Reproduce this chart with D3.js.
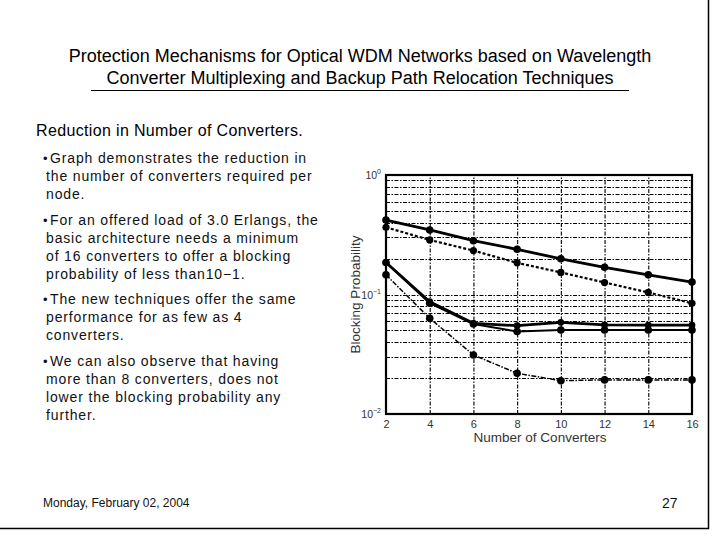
<!DOCTYPE html>
<html>
<head>
<meta charset="utf-8">
<script src="https://cdn.jsdelivr.net/npm/d3@7"></script>
<style>
  body { margin: 0; background: #fff; }
  svg { display: block; font-family: "Liberation Sans", Arial, sans-serif; }
</style>
</head>
<body>
<svg id="slide" width="720" height="540"></svg>
<script>
// chart data
const converters = [2, 4, 6, 8, 10, 12, 14, 16];
const basicArch = [0.42, 0.347, 0.282, 0.239, 0.199, 0.169, 0.146, 0.127];
const basicArch2 = [0.365, 0.286, 0.233, 0.184, 0.153, 0.126, 0.104, 0.0844];
const relocA = [0.185, 0.087, 0.0574, 0.0548, 0.0585, 0.0556, 0.0555, 0.0555];
const relocB = [0.185, 0.0845, 0.0566, 0.049, 0.0505, 0.0505, 0.0505, 0.0505];
const multiplex = [0.146, 0.0632, 0.0312, 0.0219, 0.019, 0.0193, 0.0193, 0.0193];

const xTicks = [2, 4, 6, 8, 10, 12, 14, 16];
const yDecades = [1, 0.1, 0.01];
const yDecadeExp = ["0", "\u22121", "\u22122"];

const titleLines = [
  "Protection Mechanisms for Optical WDM Networks based on Wavelength",
  "Converter Multiplexing and Backup Path Relocation Techniques"
];
const subtitle = "Reduction in Number of Converters.";
const bullets = [
  ["Graph demonstrates the reduction in", "the number of converters required per", "node."],
  ["For an offered load of 3.0 Erlangs, the", "basic architecture needs a minimum", "of 16 converters to offer a blocking", "probability of less than10\u22121."],
  ["The new techniques offer the same", "performance for as few as 4", "converters."],
  ["We can also observe that having", "more than 8 converters, does not", "lower the blocking probability any", "further."]
];
const footerDate = "Monday, February 02, 2004";
const pageNo = "27";

const svg = d3.select("#slide");

// slide frame (right + bottom edge)
svg.append("path")
  .attr("d", "M708.5,0V528.5H0")
  .attr("fill", "none")
  .attr("stroke", "#000")
  .attr("stroke-width", 1.5);

// title
svg.selectAll("text.title")
  .data(titleLines)
  .join("text")
  .attr("class", "title")
  .attr("x", 360)
  .attr("y", (d, i) => 62 + i * 22)
  .attr("text-anchor", "middle")
  .attr("font-size", 18)
  .attr("fill", "#000")
  .text(d => d);

svg.append("line")
  .attr("x1", 91).attr("x2", 629)
  .attr("y1", 90.5).attr("y2", 90.5)
  .attr("stroke", "#000");

svg.append("text")
  .attr("x", 36).attr("y", 136)
  .attr("font-size", 16)
  .attr("letter-spacing", 0.35)
  .attr("fill", "#000")
  .text(subtitle);

// bullets
let yy = 163;
bullets.forEach(lines => {
  lines.forEach((line, i) => {
    if (i === 0) {
      svg.append("text")
        .attr("x", 43).attr("y", yy)
        .attr("font-size", 13)
        .attr("fill", "#111")
        .text("\u2022");
    }
    svg.append("text")
      .attr("x", i === 0 ? 50 : 46)
      .attr("y", yy)
      .attr("font-size", 14)
      .attr("letter-spacing", 0.85)
      .attr("fill", "#111")
      .text(line);
    yy += 18;
  });
  yy += 7.5;
});

// footer
svg.append("text")
  .attr("x", 43).attr("y", 507)
  .attr("font-size", 12)
  .attr("fill", "#111")
  .text(footerDate);

svg.append("text")
  .attr("x", 662).attr("y", 508)
  .attr("font-size", 14)
  .attr("fill", "#111")
  .text(pageNo);

// chart
const pLeft = 386, pRight = 692, pTop = 175, pBottom = 414;
const x = d3.scaleLinear().domain([2, 16]).range([pLeft, pRight]);
const y = d3.scaleLog().domain([0.01, 1]).range([pBottom, pTop]);

const yGrid = [];
[0.01, 0.1].forEach(d => { for (let k = 2; k <= 9; k++) yGrid.push(d * k); });
yGrid.push(0.1);

const chart = svg.append("g");
const gridDash = "4,1.5,1.5,1.5";

// grid
chart.append("g")
  .attr("transform", `translate(0,${pBottom})`)
  .call(d3.axisBottom(x).tickValues(xTicks.slice(1, -1)).tickSize(-(pBottom - pTop)).tickFormat(""))
  .call(g => g.select(".domain").remove())
  .call(g => g.selectAll("line").attr("stroke", "#000").attr("stroke-width", 1.1).attr("stroke-dasharray", gridDash));

chart.append("g")
  .attr("transform", `translate(${pLeft},0)`)
  .call(d3.axisLeft(y).tickValues(yGrid).tickSize(-(pRight - pLeft)).tickFormat(""))
  .call(g => g.select(".domain").remove())
  .call(g => g.selectAll(".tick").attr("transform", d => `translate(0,${Math.round(y(d)) + 0.5})`))
  .call(g => g.selectAll("line").attr("stroke", "#000").attr("stroke-width", 1.1).attr("stroke-dasharray", gridDash));

// x tick labels
chart.append("g")
  .attr("transform", `translate(0,${pBottom})`)
  .call(d3.axisBottom(x).tickValues(xTicks).tickSize(0).tickPadding(6))
  .call(g => g.select(".domain").remove())
  .call(g => g.selectAll("text")
    .attr("font-family", "Liberation Sans, Arial, sans-serif")
    .attr("font-size", 11)
    .attr("fill", "#333"));

// y tick labels with superscript exponents
const yl = chart.selectAll("text.ylab")
  .data(yDecades)
  .join("text")
  .attr("class", "ylab")
  .attr("x", pLeft - 5)
  .attr("y", d => y(d) + 4)
  .attr("text-anchor", "end")
  .attr("font-size", 10.5)
  .attr("fill", "#333");
yl.append("tspan").text("10");
yl.append("tspan")
  .attr("dy", -5)
  .attr("font-size", 7)
  .text((d, i) => yDecadeExp[i]);

// box
chart.append("rect")
  .attr("x", pLeft).attr("y", pTop)
  .attr("width", pRight - pLeft).attr("height", pBottom - pTop)
  .attr("fill", "none")
  .attr("stroke", "#000")
  .attr("stroke-width", 2.2);

// axis titles
chart.append("text")
  .attr("x", (pLeft + pRight) / 2 + 1).attr("y", 442)
  .attr("text-anchor", "middle")
  .attr("font-size", 13.5)
  .attr("fill", "#333")
  .text("Number of Converters");

chart.append("text")
  .attr("transform", `translate(360,${(pTop + pBottom) / 2}) rotate(-90)`)
  .attr("text-anchor", "middle")
  .attr("font-size", 13.5)
  .attr("fill", "#333")
  .text("Blocking Probability");

// series
const series = [
  { values: basicArch, width: 2.8, dash: null, r: 3.8 },
  { values: basicArch2, width: 2.2, dash: "3,2", r: 3.6 },
  { values: relocA, width: 2.8, dash: null, r: 3.4 },
  { values: relocB, width: 2, dash: null, r: 3.8 },
  { values: multiplex, width: 1.5, dash: "5,1.5,1.5,1.5", r: 3.8 }
];

const line = d3.line().x((d, i) => x(converters[i])).y(d => y(d));

series.forEach(s => {
  chart.append("path")
    .attr("d", line(s.values))
    .attr("fill", "none")
    .attr("stroke", "#000")
    .attr("stroke-width", s.width)
    .attr("stroke-dasharray", s.dash);

  chart.selectAll(null)
    .data(s.values)
    .join("circle")
    .attr("cx", (d, i) => x(converters[i]))
    .attr("cy", d => y(d))
    .attr("r", s.r)
    .attr("fill", "#000");
});
</script>
</body>
</html>
